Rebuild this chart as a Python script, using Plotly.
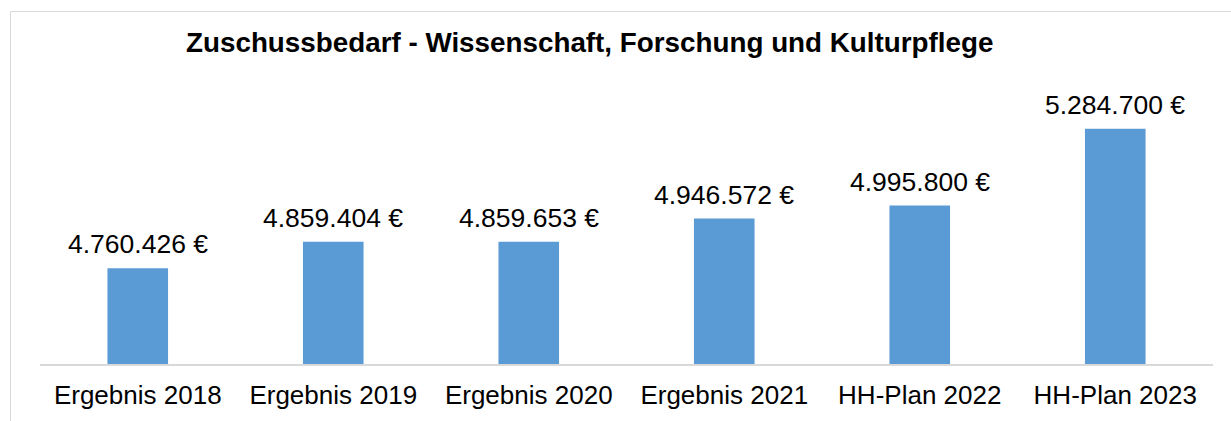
import plotly.graph_objects as go

categories = ["Ergebnis 2018", "Ergebnis 2019", "Ergebnis 2020", "Ergebnis 2021", "HH-Plan 2022", "HH-Plan 2023"]
values = [4760426, 4859404, 4859653, 4946572, 4995800, 5284700]
title_text = "Zuschussbedarf - Wissenschaft, Forschung und Kulturpflege"

def fmt(v):
    return f"{v:,}".replace(",", ".") + " €"

FONT = "Liberation Sans, Arial, sans-serif"
W, H = 1231, 421
ml, mr, mt, mb = 40, 18, 98, 57

fig = go.Figure()
fig.add_trace(go.Bar(x=categories, y=values, marker=dict(color="#5B9BD5", line=dict(width=0)),
                     hoverinfo="skip"))

annotations = []
for c, v in zip(categories, values):
    annotations.append(dict(x=c, y=v, xref="x", yref="y", text=fmt(v), showarrow=False,
                            yanchor="bottom", yshift=7,
                            font=dict(family=FONT, size=26.5, color="#000000")))

pw = W - ml - mr
ph = H - mt - mb
def px_to_paper_x(px):
    return (px - ml) / pw
def px_to_paper_y(py):
    return (H - mb - py) / ph

annotations.append(dict(x=px_to_paper_x(589.5), y=px_to_paper_y(42), xref="paper", yref="paper",
                        text="<b>" + title_text + "</b>", showarrow=False,
                        xanchor="center", yanchor="middle",
                        font=dict(family=FONT, size=27.8, color="#000000")))

fig.update_layout(
    width=W, height=H,
    margin=dict(l=ml, r=mr, t=mt, b=mb, pad=0),
    paper_bgcolor="white", plot_bgcolor="white",
    bargap=0.69,
    showlegend=False,
    separators=",.",
    annotations=annotations,
    shapes=[dict(type="rect", xref="paper", yref="paper",
                 x0=px_to_paper_x(10.5), x1=px_to_paper_x(1400),
                 y0=px_to_paper_y(600), y1=px_to_paper_y(11.5),
                 line=dict(color="#D9D9D9", width=1), fillcolor="rgba(0,0,0,0)", layer="below")],
    xaxis=dict(showline=True, linecolor="#D9D9D9", linewidth=2, showgrid=False, ticks="",
               ticklabelstandoff=7,
               tickfont=dict(family=FONT, size=26, color="#000000"), fixedrange=True),
    yaxis=dict(range=[4400000, 5400000], visible=False, fixedrange=True),
)

fig.write_html("out.html", config={"displayModeBar": False},
               post_script="document.body.style.margin='0px';document.body.style.overflow='hidden';")
